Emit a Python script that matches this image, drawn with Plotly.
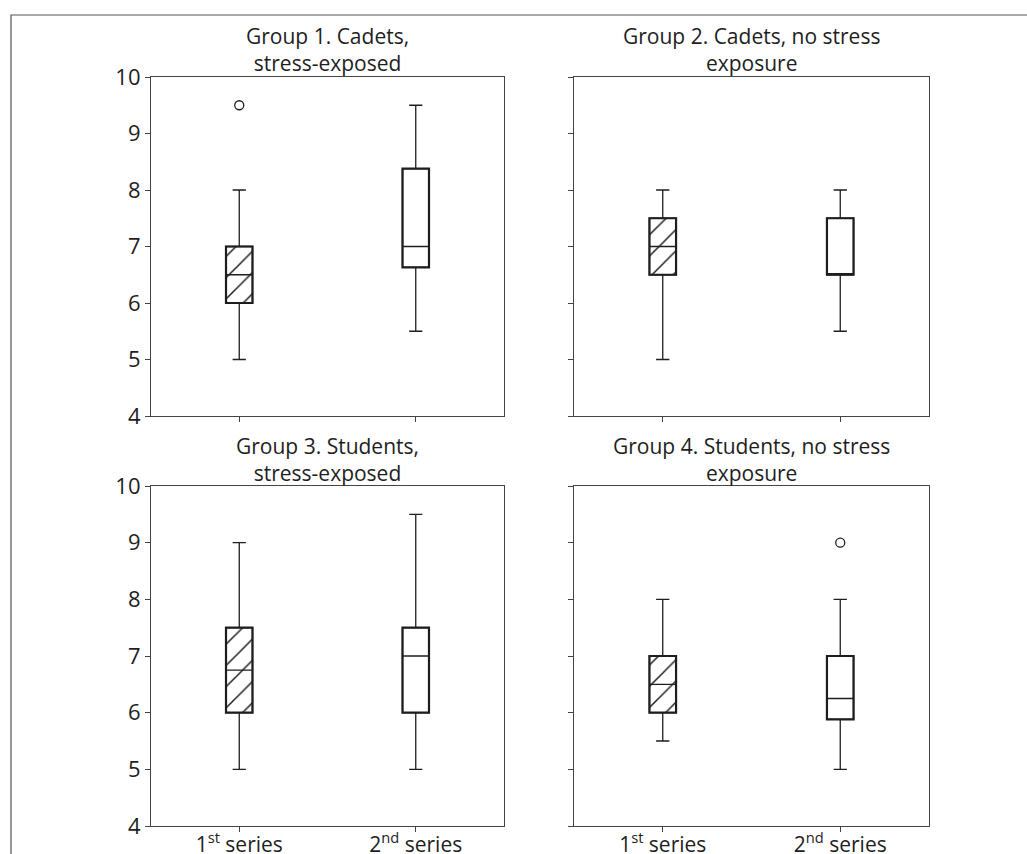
import plotly.graph_objects as go
from plotly.subplots import make_subplots

# Box-plot statistics per group: [1st series, 2nd series]
categories = ["1st series", "2nd series"]
tick_labels = ["1<sup>st</sup> series", "2<sup>nd</sup> series"]
titles = [
    "Group 1. Cadets,<br>stress-exposed",
    "Group 2. Cadets, no stress<br>exposure",
    "Group 3. Students,<br>stress-exposed",
    "Group 4. Students, no stress<br>exposure",
]

g1_lower = [5.0, 5.5]
g1_q1 = [6.0, 6.63]
g1_median = [6.5, 7.0]
g1_q3 = [7.0, 8.38]
g1_upper = [8.0, 9.5]
g1_outliers = [[9.5], []]

g2_lower = [5.0, 5.5]
g2_q1 = [6.5, 6.5]
g2_median = [7.0, 6.5]
g2_q3 = [7.5, 7.5]
g2_upper = [8.0, 8.0]
g2_outliers = [[], []]

g3_lower = [5.0, 5.0]
g3_q1 = [6.0, 6.0]
g3_median = [6.75, 7.0]
g3_q3 = [7.5, 7.5]
g3_upper = [9.0, 9.5]
g3_outliers = [[], []]

g4_lower = [5.5, 5.0]
g4_q1 = [6.0, 5.88]
g4_median = [6.5, 6.25]
g4_q3 = [7.0, 7.0]
g4_upper = [8.0, 8.0]
g4_outliers = [[], [9.0]]

groups = [
    (g1_lower, g1_q1, g1_median, g1_q3, g1_upper, g1_outliers),
    (g2_lower, g2_q1, g2_median, g2_q3, g2_upper, g2_outliers),
    (g3_lower, g3_q1, g3_median, g3_q3, g3_upper, g3_outliers),
    (g4_lower, g4_q1, g4_median, g4_q3, g4_upper, g4_outliers),
]

W, H = 1027, 854
INK = "#1e1e1e"
FONT = "Open Sans"

fig = make_subplots(rows=2, cols=2)

BOX_W = 0.15
for i, (lo, q1, med, q3, up, outl) in enumerate(groups):
    r, c = i // 2 + 1, i % 2 + 1
    # filled box body (hatched for the 1st series)
    fig.add_trace(go.Bar(
        x=categories, y=[b - a for a, b in zip(q1, q3)], base=q1, width=BOX_W,
        marker=dict(color="white", line=dict(color=INK, width=2.2),
                    pattern=dict(shape=["/", ""], fgcolor=INK, bgcolor="white",
                                 fgopacity=1, size=15, solidity=0.1)),
        showlegend=False, hoverinfo="skip"), row=r, col=c)
    # whiskers and median
    fig.add_trace(go.Box(
        x=categories, q1=q1, median=med, q3=q3, lowerfence=lo, upperfence=up,
        width=BOX_W, whiskerwidth=0.5, fillcolor="rgba(0,0,0,0)",
        line=dict(color=INK, width=1.3), boxpoints=False, showlegend=False),
        row=r, col=c)
    # outliers
    ox, oy = [], []
    for cat, vals in zip(categories, outl):
        for v in vals:
            ox.append(cat)
            oy.append(v)
    if ox:
        fig.add_trace(go.Scatter(
            x=ox, y=oy, mode="markers",
            marker=dict(symbol="circle-open", size=9, color=INK, line=dict(width=1.3)),
            showlegend=False), row=r, col=c)

# pixel layout of the panels
col_px = [(151, 504), (574, 929)]
row_px = [(77, 416), (486, 826)]

for i in range(4):
    r, c = i // 2, i % 2
    xa = "xaxis" if i == 0 else f"xaxis{i + 1}"
    ya = "yaxis" if i == 0 else f"yaxis{i + 1}"
    x0, x1 = col_px[c]
    y0, y1 = row_px[r]
    fig.layout[xa].update(
        domain=[x0 / W, x1 / W], type="category", range=[-0.5, 1.5],
        tickvals=categories, ticktext=tick_labels, showticklabels=(r == 1),
        ticks="outside", ticklen=5, tickcolor="#444", tickwidth=1,
        ticklabelstandoff=-5,
        showline=True, mirror=True, linecolor="#444", linewidth=1.2,
        showgrid=False, zeroline=False, automargin=False,
        tickfont=dict(family=FONT, size=21, color=INK))
    fig.layout[ya].update(
        domain=[1 - y1 / H, 1 - y0 / H], range=[4, 10], dtick=1, tick0=4,
        showticklabels=(c == 0),
        ticks="outside", ticklen=5, tickcolor="#444", tickwidth=1,
        showline=True, mirror=True, linecolor="#444", linewidth=1.2,
        showgrid=False, zeroline=False, automargin=False,
        tickfont=dict(family=FONT, size=22, color=INK))
    fig.add_annotation(
        text=titles[i], xref="paper", yref="paper",
        x=(x0 + x1) / 2 / W, y=1 - (y0 - 27) / H, xanchor="center", yanchor="middle",
        showarrow=False, font=dict(family=FONT, size=21, color=INK))

# outer frame
fig.add_shape(type="rect", xref="paper", yref="paper",
              x0=11 / W, y0=1 - 15 / H, x1=1.02, y1=-0.02,
              line=dict(color="#555", width=1.2), fillcolor="rgba(0,0,0,0)")

fig.update_layout(
    width=W, height=H, margin=dict(l=0, r=0, t=0, b=0, autoexpand=False),
    paper_bgcolor="white", plot_bgcolor="white",
    barmode="overlay", boxmode="overlay", showlegend=False,
    font=dict(family=FONT, color=INK))

fig.write_html("out.html")
